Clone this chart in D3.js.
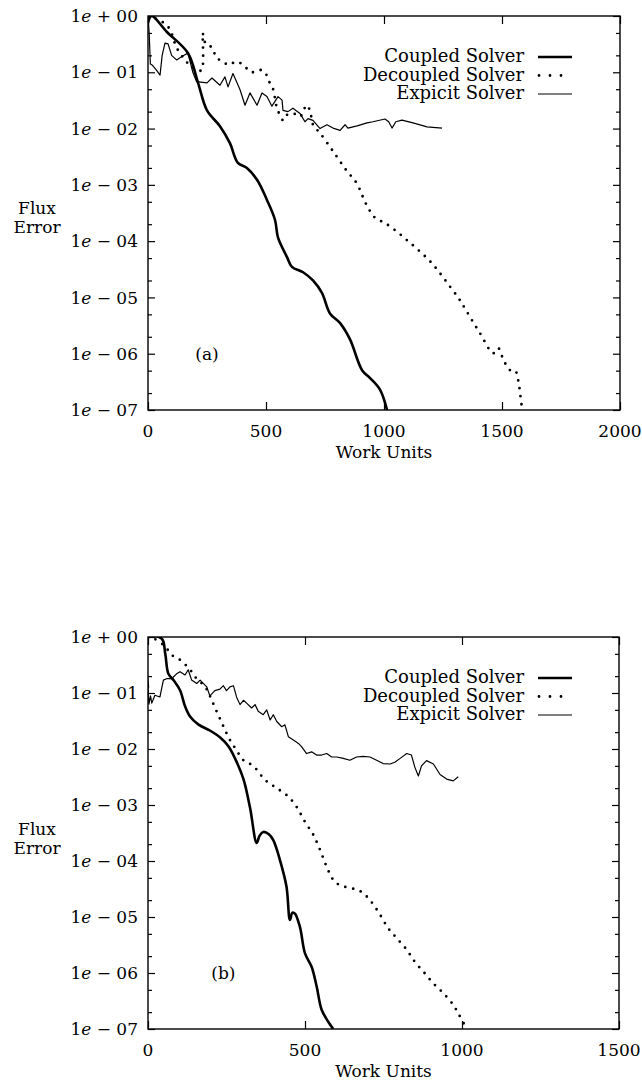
<!DOCTYPE html>
<html><head><meta charset="utf-8">
<script src="https://cdn.jsdelivr.net/npm/d3@7"></script>
<style>
html,body{margin:0;padding:0;background:#fff;}
svg{display:block;}
text{font-family:"DejaVu Serif","Liberation Serif",serif;fill:#000;}
</style></head>
<body>
<svg id="chart" width="642" height="1088"></svg>
<script>
// ---------- data (x = work units, y = flux error) ----------
const seriesNames = ["Coupled Solver", "Decoupled Solver", "Expicit Solver"];
const yTickExponents = [0, -1, -2, -3, -4, -5, -6, -7];
const xTicksA = [0, 500, 1000, 1500, 2000];
const xTicksB = [0, 500, 1000, 1500];

const coupledA = [[0,0.75],[15,1.0],[80,0.52],[169,0.22],[212,0.065],[250,0.021],[305,0.011],[347,5.5e-3],[381,2.45e-3],[419,2.0e-3],[462,1.23e-3],[504,5.4e-4],[538,2.4e-4],[551,1.15e-4],[589,5.2e-5],[610,3.5e-5],[657,2.8e-5],[699,2.0e-5],[737,1.2e-5],[771,5.2e-6],[814,3.5e-6],[856,1.8e-6],[907,5.1e-7],[941,3.7e-7],[983,2.3e-7],[1013,1e-7]];

const decoupledA = [[0,1.0],[40,0.87],[79,0.69],[100,0.49],[120,0.28],[150,0.18],[180,0.13],[215,0.107],[228,0.11],[232,0.5],[236,0.4],[249,0.3],[270,0.28],[291,0.18],[319,0.155],[340,0.135],[376,0.155],[411,0.126],[432,0.102],[460,0.102],[482,0.11],[503,0.089],[517,0.063],[531,0.049],[545,0.0245],[573,0.014],[588,0.0174],[616,0.0186],[644,0.0162],[672,0.026],[686,0.021],[700,0.0115],[729,8.3e-3],[785,3.9e-3],[841,1.8e-3],[884,1.07e-3],[926,4.4e-4],[962,2.6e-4],[1004,2.1e-4],[1054,1.48e-4],[1096,1.05e-4],[1146,6.9e-5],[1195,4.4e-5],[1237,2.7e-5],[1280,1.55e-5],[1315,9.8e-6],[1336,7.1e-6],[1407,2.3e-6],[1463,1.02e-6],[1484,1.26e-6],[1506,7.8e-7],[1534,5.1e-7],[1555,5.1e-7],[1573,2.6e-7],[1583,1.23e-7],[1590,1e-7]];

const explicitA = [[0,1.0],[5,0.5],[10,0.14],[17,0.135],[35,0.11],[51,0.089],[60,0.2],[72,0.33],[85,0.32],[100,0.2],[121,0.166],[144,0.19],[169,0.22],[190,0.1],[206,0.068],[250,0.065],[271,0.079],[305,0.059],[326,0.083],[339,0.055],[360,0.095],[390,0.049],[411,0.026],[432,0.043],[462,0.026],[483,0.043],[504,0.037],[525,0.025],[551,0.037],[568,0.032],[572,0.021],[593,0.020],[614,0.023],[644,0.0186],[665,0.0132],[678,0.015],[699,0.014],[729,0.010],[758,0.0117],[784,0.0102],[814,0.0093],[835,0.0117],[847,0.0102],[886,0.0112],[928,0.0126],[953,0.0132],[1004,0.0148],[1020,0.0132],[1034,0.0102],[1050,0.0132],[1076,0.0141],[1123,0.0126],[1182,0.0107],[1246,0.0102]];

const coupledB = [[0,0.125],[2,1.0],[44,0.93],[55,0.5],[65,0.22],[81,0.17],[102,0.112],[118,0.058],[134,0.038],[160,0.0275],[197,0.0214],[229,0.0162],[256,0.0112],[277,6.8e-3],[304,2.9e-3],[325,8.9e-4],[346,2.1e-4],[355,2.8e-4],[367,3.3e-4],[385,3.0e-4],[399,2.35e-4],[420,1.05e-4],[441,3.5e-5],[452,8.9e-6],[460,1.2e-5],[468,1.15e-5],[484,6.6e-6],[500,2.24e-6],[521,1.29e-6],[537,5.8e-7],[553,2.2e-7],[574,1.35e-7],[590,1e-7]];

const decoupledB = [[0,1.0],[20,0.93],[54,0.68],[75,0.48],[102,0.39],[134,0.26],[155,0.18],[182,0.129],[197,0.089],[213,0.055],[229,0.035],[245,0.022],[261,0.0145],[282,9.5e-3],[304,6.3e-3],[335,5.0e-3],[373,2.8e-3],[410,2.0e-3],[447,1.41e-3],[473,9.3e-4],[500,5.0e-4],[527,2.9e-4],[548,1.58e-4],[569,7.9e-5],[590,4.6e-5],[611,3.7e-5],[654,3.2e-5],[680,2.8e-5],[707,2.0e-5],[739,1.1e-5],[765,6.3e-6],[792,4.2e-6],[824,2.6e-6],[850,1.58e-6],[882,9.8e-7],[909,6.5e-7],[940,4.4e-7],[972,2.7e-7],[988,1.9e-7],[1015,1e-7]];

const explicitB = [[0,0.13],[3,0.063],[8,0.089],[12,0.066],[22,0.091],[38,0.085],[49,0.17],[59,0.18],[75,0.18],[91,0.22],[102,0.24],[118,0.21],[128,0.26],[139,0.17],[155,0.148],[166,0.17],[187,0.129],[197,0.089],[213,0.11],[229,0.117],[240,0.135],[250,0.11],[261,0.129],[272,0.135],[282,0.085],[293,0.062],[304,0.074],[314,0.066],[330,0.054],[341,0.062],[351,0.047],[367,0.041],[378,0.05],[389,0.033],[399,0.041],[410,0.031],[426,0.025],[436,0.027],[447,0.0166],[463,0.0145],[479,0.0126],[489,0.011],[505,8.3e-3],[521,8.9e-3],[537,7.8e-3],[553,7.8e-3],[569,8.3e-3],[585,7.2e-3],[601,7.2e-3],[622,6.8e-3],[643,6.3e-3],[664,7.2e-3],[686,7.4e-3],[707,7.2e-3],[728,6.3e-3],[749,5.5e-3],[771,5.4e-3],[786,5.8e-3],[803,6.8e-3],[824,8.3e-3],[839,7.8e-3],[850,4.7e-3],[861,3.3e-3],[871,5.0e-3],[887,6.2e-3],[909,5.4e-3],[930,3.5e-3],[951,2.9e-3],[972,2.7e-3],[988,3.2e-3]];

// ---------- drawing ----------
const svg = d3.select("#chart");

function drawPanel(cfg) {
  const {id, left, right, top, bottom, xMax, xTicks, coupled, decoupled, explicit, tag, tagX} = cfg;
  const x = d3.scaleLinear().domain([0, xMax]).range([left, right]);
  const y = d3.scaleLog().domain([1e-7, 1]).range([bottom, top]);
  const g = svg.append("g");

  g.append("clipPath").attr("id", "clip" + id).append("rect")
    .attr("x", left).attr("y", top).attr("width", right - left).attr("height", bottom - top);

  const majors = yTickExponents.map(e => Math.pow(10, e));
  const minors = [];
  for (let e = 0; e > -7; e--) { [5, 2].forEach(m => minors.push(m * Math.pow(10, e - 1))); }

  const styleAxis = sel => { sel.select(".domain").remove(); sel.selectAll("line").attr("stroke", "#000").attr("stroke-width", 1.2); sel.selectAll("text").remove(); };

  g.append("g").attr("transform", `translate(${left},0)`).call(d3.axisLeft(y).tickValues(majors).tickSize(-7).tickFormat("")).call(styleAxis);
  g.append("g").attr("transform", `translate(${left},0)`).call(d3.axisLeft(y).tickValues(minors).tickSize(-4).tickFormat("")).call(styleAxis);
  g.append("g").attr("transform", `translate(${right},0)`).call(d3.axisRight(y).tickValues(majors).tickSize(-7).tickFormat("")).call(styleAxis);
  g.append("g").attr("transform", `translate(${right},0)`).call(d3.axisRight(y).tickValues(minors).tickSize(-4).tickFormat("")).call(styleAxis);
  g.append("g").attr("transform", `translate(0,${bottom})`).call(d3.axisBottom(x).tickValues(xTicks).tickSize(-8).tickFormat("")).call(styleAxis);
  g.append("g").attr("transform", `translate(0,${top})`).call(d3.axisTop(x).tickValues(xTicks).tickSize(-8).tickFormat("")).call(styleAxis);

  // frame
  g.append("rect").attr("x", left).attr("y", top).attr("width", right - left).attr("height", bottom - top)
    .attr("fill", "none").attr("stroke", "#000").attr("stroke-width", 1.4);

  // y labels
  yTickExponents.forEach(e => {
    const t = g.append("text").attr("x", 138).attr("y", y(Math.pow(10, e))).attr("dy", "0.36em")
      .attr("text-anchor", "end").attr("font-size", 17);
    t.append("tspan").text("1");
    t.append("tspan").attr("font-style", "italic").text("e");
    t.append("tspan").text(e === 0 ? " + " : " \u2212 ");
    t.append("tspan").text(String(Math.abs(e)).padStart(2, "0"));
  });
  // x labels
  xTicks.forEach(v => {
    g.append("text").attr("x", x(v)).attr("y", bottom + 21).attr("dy", "0.36em")
      .attr("text-anchor", "middle").attr("font-size", 17).text(v);
  });
  g.append("text").attr("x", (left + right) / 2).attr("y", bottom + 42).attr("dy", "0.36em")
    .attr("text-anchor", "middle").attr("font-size", 17).text("Work Units");
  g.append("text").attr("x", 37).attr("y", top + 192).attr("dy", "0.36em").attr("text-anchor", "middle").attr("font-size", 17).text("Flux");
  g.append("text").attr("x", 37).attr("y", top + 211).attr("dy", "0.36em").attr("text-anchor", "middle").attr("font-size", 17).text("Error");

  // tag
  g.append("text").attr("x", x(tagX)).attr("y", y(1e-6)).attr("dy", "0.36em").attr("text-anchor", "middle").attr("font-size", 17).text(tag);

  const lineSmooth = d3.line().x(d => x(d[0])).y(d => y(d[1])).curve(d3.curveCatmullRom.alpha(0.5));
  const lineSharp = d3.line().x(d => x(d[0])).y(d => y(d[1]));

  const plot = g.append("g").attr("clip-path", `url(#clip${id})`);
  plot.append("path").datum(explicit).attr("d", lineSharp).attr("fill", "none").attr("stroke", "#000").attr("stroke-width", 1.2).attr("stroke-linejoin", "round");
  plot.append("path").datum(decoupled).attr("d", lineSmooth).attr("fill", "none").attr("stroke", "#000").attr("stroke-width", 2.8)
    .attr("stroke-linecap", "round").attr("stroke-dasharray", "0 8");
  plot.append("path").datum(coupled).attr("d", lineSmooth).attr("fill", "none").attr("stroke", "#000").attr("stroke-width", 2.6).attr("stroke-linejoin", "round");

  // legend
  const rows = [top + 40, top + 58.5, top + 77];
  const styles = [
    {w: 2.6, dash: null, cap: "butt"},
    {w: 2.8, dash: "0 11", cap: "round"},
    {w: 1.2, dash: null, cap: "butt"}
  ];
  seriesNames.forEach((name, i) => {
    g.append("text").attr("x", 524).attr("y", rows[i]).attr("dy", "0.36em").attr("text-anchor", "end").attr("font-size", 18).text(name);
    const ln = g.append("line").attr("x1", 538).attr("x2", 572).attr("y1", rows[i] + 1).attr("y2", rows[i] + 1)
      .attr("stroke", "#000").attr("stroke-width", styles[i].w).attr("stroke-linecap", styles[i].cap);
    if (styles[i].dash) ln.attr("stroke-dasharray", styles[i].dash).attr("x1", 539);
  });
}

drawPanel({id: "a", left: 148, right: 620, top: 16, bottom: 410, xMax: 2000, xTicks: xTicksA,
  coupled: coupledA, decoupled: decoupledA, explicit: explicitA, tag: "(a)", tagX: 250});
drawPanel({id: "b", left: 148, right: 619, top: 637, bottom: 1029, xMax: 1500, xTicks: xTicksB,
  coupled: coupledB, decoupled: decoupledB, explicit: explicitB, tag: "(b)", tagX: 240});
</script>
</body></html>
